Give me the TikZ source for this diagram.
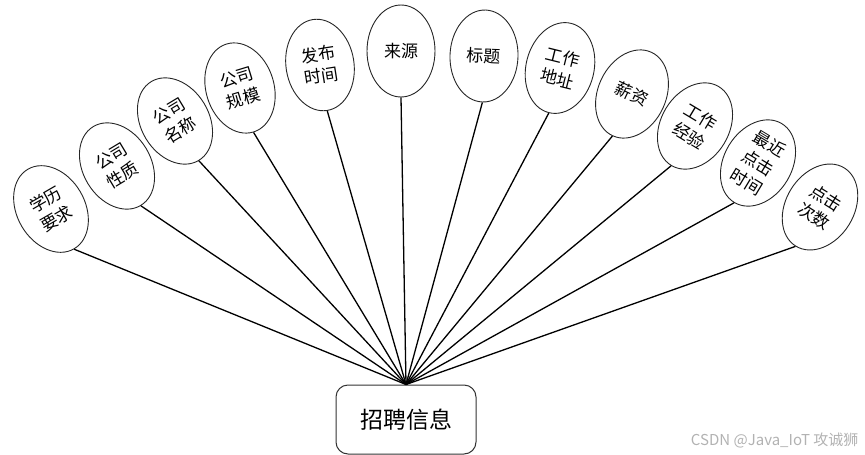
\documentclass[tikz,border=0pt]{standalone}
\usepackage{fontspec}
\newfontfamily\cjk{Noto Sans CJK SC}
\usepackage{tikz}
\usetikzlibrary{shapes.geometric}

\begin{document}
\begin{tikzpicture}[x=1pt,y=-1pt,
  attr/.style={ellipse,draw=black!85,line width=0.9pt,minimum width=68pt,
    minimum height=92pt,inner sep=0pt,align=center,
    font=\cjk\fontsize{17}{22}\selectfont},
  link/.style={line width=1.3pt,black},
  entity/.style={draw=black!80,line width=1pt,rounded corners=12pt,
    minimum width=140pt,minimum height=69pt,
    font=\cjk\fontsize{23}{26}\selectfont}]
\useasboundingbox (0,0) rectangle (865,455);
% Entity
\node[entity] (zhaopin) at (406,419.5) {招聘信息};
% Attributes, left to right
\node[attr,rotate=30] (xueli) at (51,209) {学历\\要求};
\node[attr,rotate=31] (xingzhi) at (117,166) {公司\\性质};
\node[attr,rotate=31] (mingcheng) at (175,121) {公司\\名称};
\node[attr,rotate=17] (guimo) at (240,88) {公司\\规模};
\node[attr,rotate=9] (fabu) at (320,65) {发布\\时间};
\node[attr] (laiyuan) at (401,51) {来源};
\node[attr,rotate=-2] (biaoti) at (484,56) {标题};
\node[attr,rotate=-14] (dizhi) at (560,68) {工作\\地址};
\node[attr,rotate=-25] (xinzi) at (632,94) {薪资};
\node[attr,rotate=-31] (jingyan) at (695,126) {工作\\经验};
\node[attr,rotate=-31] (zuijin) at (758,163) {最近\\点击\\时间};
\node[attr,rotate=-32] (cishu) at (820,207) {点击\\次数};
% Links to the entity
\foreach \a in {xueli,xingzhi,mingcheng,guimo,fabu,laiyuan,
                biaoti,dizhi,xinzi,jingyan,zuijin,cishu}
  \draw[link] (\a.south) -- (zhaopin.north);
% Watermark
\node[text=black!30,font=\cjk\fontsize{15}{17}\selectfont,anchor=east]
  (mark) at (862,440) {CSDN @Java\_IoT 攻诚狮};
\end{tikzpicture}
\end{document}
